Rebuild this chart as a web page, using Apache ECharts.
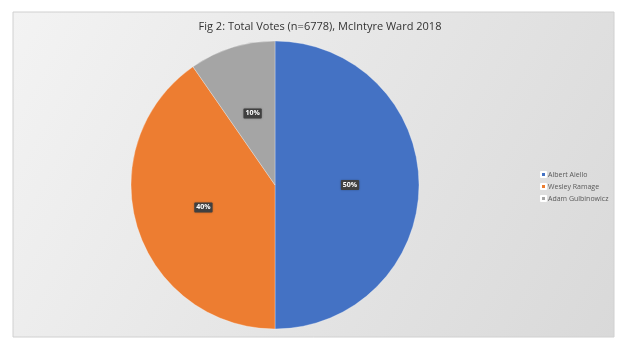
<!DOCTYPE html>
<html><head><meta charset="utf-8">
<script src="https://cdn.jsdelivr.net/npm/echarts@6/dist/echarts.min.js"></script>
<style>html,body{margin:0;padding:0;background:#fff}#c{width:640px;height:360px}</style>
</head><body><div id="c"></div>
<script>
const titleText = 'Fig 2: Total Votes (n=6778), McIntyre Ward 2018';
const candidates = ['Albert Aiello', 'Wesley Ramage', 'Adam Gulbinowicz'];
const votes = [3389, 2735, 654];
const colors = ['#4472C4', '#ED7D31', '#A5A5A5'];

const chart = echarts.init(document.getElementById('c'), null, {renderer: 'canvas'});
chart.setOption({
  backgroundColor: '#ffffff',
  animation: false,
  graphic: [{
    type: 'rect', z: -10, silent: true,
    shape: {x: 13, y: 12, width: 601, height: 325},
    style: {
      fill: new echarts.graphic.LinearGradient(0, 0, 1, 1, [
        {offset: 0, color: '#f3f3f3'}, {offset: 1, color: '#d9d9d9'}
      ]),
      stroke: '#d0d0d0', lineWidth: 1
    }
  }],
  title: {
    text: titleText, left: 'center', top: 16,
    textStyle: {fontFamily: 'Open Sans', fontSize: 11, fontWeight: 'normal', color: '#333333'}
  },
  legend: {
    orient: 'vertical', left: 535, top: 166,
    itemWidth: 5, itemHeight: 5, itemGap: 5, icon: 'rect',
    textStyle: {fontFamily: 'Open Sans', fontSize: 7, color: '#595959', padding: [0,0,0,-3]},
    data: candidates
  },
  series: [{
    type: 'pie', center: [275, 185], radius: [0, 144],
    startAngle: 90, clockwise: true,
    itemStyle: {borderColor: '#ffffff', borderWidth: 0.3},
    label: {
      position: 'inside', formatter: p => Math.round(p.percent) + '%',
      color: '#ffffff', fontFamily: 'Open Sans', fontSize: 7, fontWeight: 'bold',
      backgroundColor: '#404040', padding: [2, 2, 1, 2], borderRadius: 1,
      shadowColor: 'rgba(0,0,0,0.3)', shadowBlur: 2
    },
    labelLine: {show: false},
    data: candidates.map((n, i) => ({name: n, value: votes[i], itemStyle: {color: colors[i]}}))
  }]
});
</script></body></html>
